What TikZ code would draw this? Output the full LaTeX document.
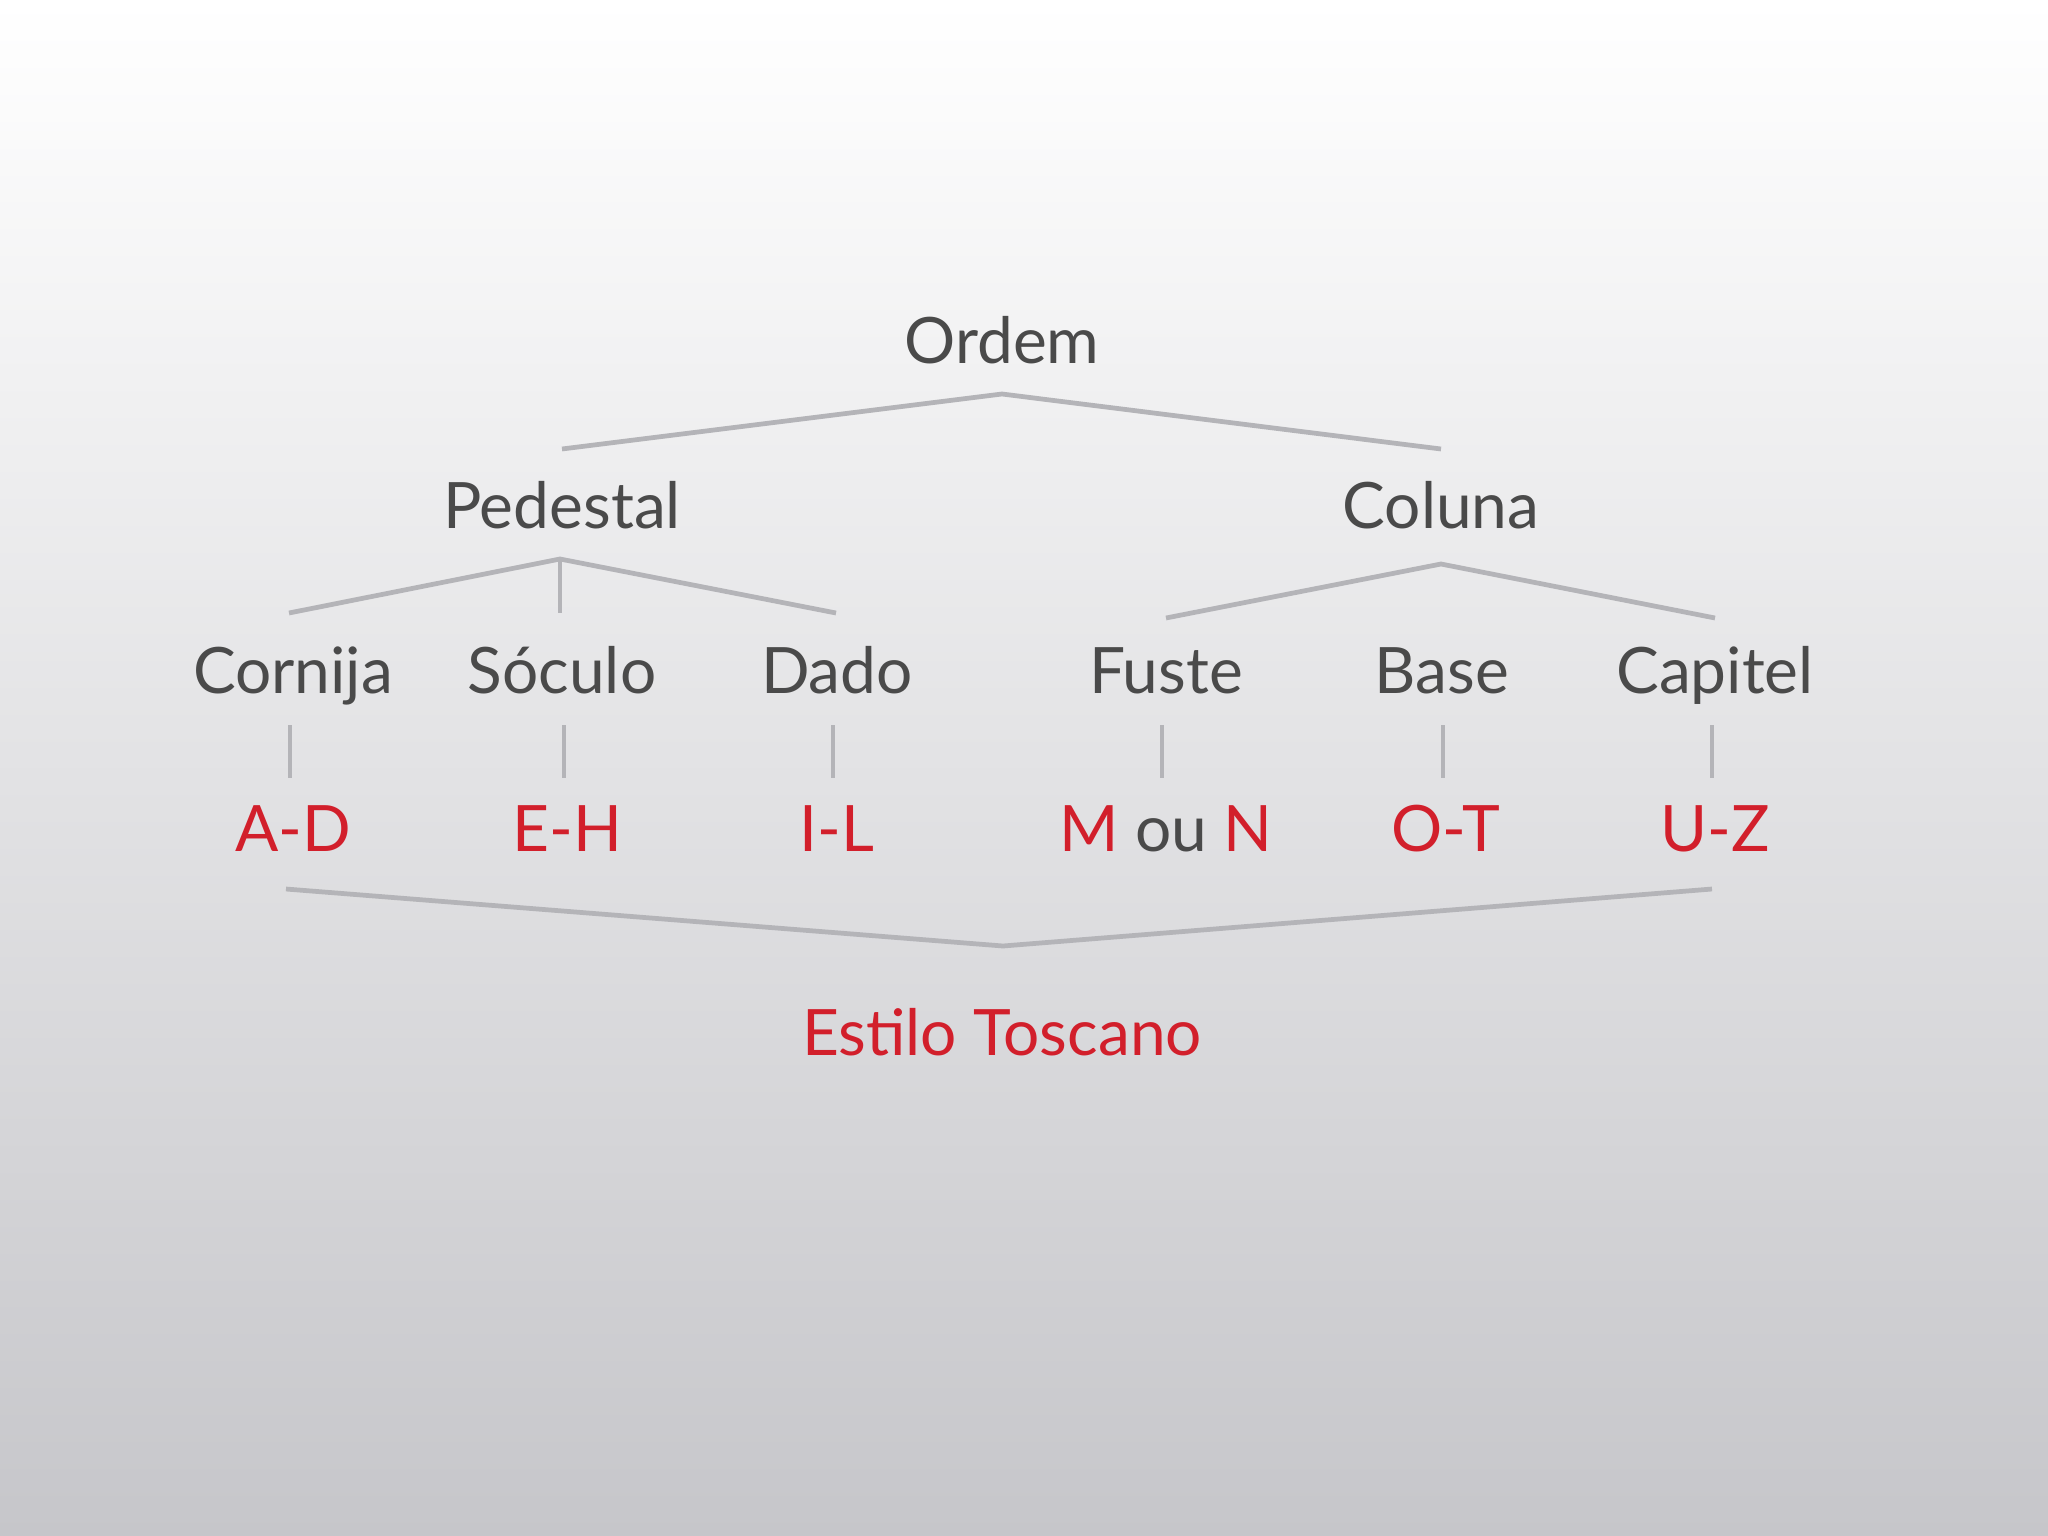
\documentclass[tikz,border=0pt]{standalone}
\usepackage{fontspec}
\setmainfont{Lato}
\usepackage{xcolor}
\usepackage{tikz}

\definecolor{textgray}{RGB}{74,74,74}
\definecolor{labelred}{RGB}{210,31,43}
\definecolor{linegray}{RGB}{180,180,184}

\begin{document}
\begin{tikzpicture}[x=0.01cm, y=-0.01cm]
				\tikzstyle{every node}=[font=\fontsize{18.2}{22}\selectfont, anchor=base, inner sep=0pt];
				\tikzstyle{term}=[text=textgray];
				\tikzstyle{letters}=[text=labelred];
				\tikzstyle{branch}=[draw=linegray, line width=1.35pt];
				
				%Background
				\shade[top color=white, middle color={rgb,255:red,230;green,230;blue,232}, bottom color={rgb,255:red,198;green,198;blue,202}] (0, 0) rectangle (2048, 1536);
				\useasboundingbox (0, 0) rectangle (2048, 1536);
				
				%Level 1
				\node[term] (ordem) at (1002, 363) {Ordem};
				
				%Level 2
				\node[term] (pedestal) at (562, 528) {Pedestal};
				\node[term] (coluna) at (1441, 528) {Coluna};
				
				%Level 3
				\node[term] (cornija) at (293, 693) {Cornija};
				\node[term] (soculo) at (562, 693) {Sóculo};
				\node[term] (dado) at (837, 693) {Dado};
				\node[term] (fuste) at (1166, 693) {Fuste};
				\node[term] (base) at (1442, 693) {Base};
				\node[term] (capitel) at (1715, 693) {Capitel};
				
				%Letters
				\node[letters] (ad) at (293, 851) {A-D};
				\node[letters] (eh) at (567, 851) {E-H};
				\node[letters] (il) at (837, 851) {I-L};
				\node[letters] (mn) at (1166, 851) {M \textcolor{textgray}{ou} N};
				\node[letters] (ot) at (1446, 851) {O-T};
				\node[letters] (uz) at (1715, 851) {U-Z};
				
				%Style
				\node[letters] (estilo) at (1002, 1055) {Estilo Toscano};
				
				%Bracket points
				\coordinate (ordemTop) at (1002, 394);
				\coordinate (pedestalEnd) at (562, 449);
				\coordinate (colunaEnd) at (1441, 449);
				\coordinate (pedestalTop) at (560, 559);
				\coordinate (pedestalStem) at (560, 613);
				\coordinate (cornijaEnd) at (289, 613);
				\coordinate (dadoEnd) at (836, 613);
				\coordinate (colunaTop) at (1441, 564);
				\coordinate (fusteEnd) at (1166, 618);
				\coordinate (capitelEnd) at (1715, 618);
				\coordinate (adEnd) at (286, 889);
				\coordinate (estiloTop) at (1003, 946);
				\coordinate (uzEnd) at (1712, 889);
				
				%Lines
				\draw[branch] (pedestalEnd) -- (ordemTop) -- (colunaEnd);
				\draw[branch] (cornijaEnd) -- (pedestalTop) -- (dadoEnd);
				\draw[branch] (pedestalTop) -- (pedestalStem);
				\draw[branch] (fusteEnd) -- (colunaTop) -- (capitelEnd);
				\draw[branch] (adEnd) -- (estiloTop) -- (uzEnd);
				
				%Ticks
				\foreach \up/\down/\x in {cornija/ad/290, soculo/eh/564, dado/il/833, fuste/mn/1162, base/ot/1443, capitel/uz/1712}
				{
					\coordinate (\up Tick) at (\x, 725);
					\coordinate (\down Tick) at (\x, 778);
					\draw[branch] (\up Tick) -- (\down Tick);
				}

			\end{tikzpicture}
\end{document}
